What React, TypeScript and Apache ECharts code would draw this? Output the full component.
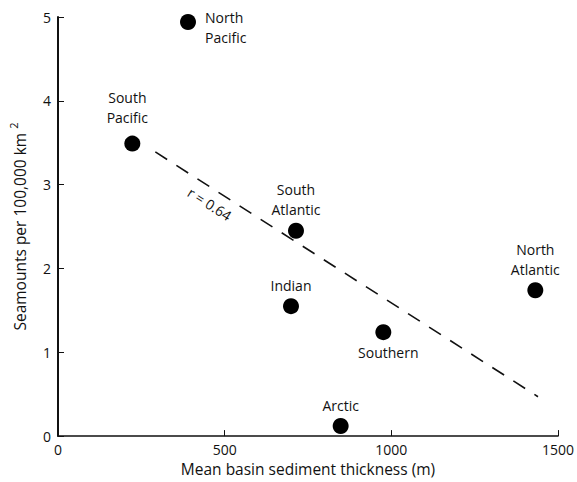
import React, { useEffect, useRef } from "react";
import * as echarts from "echarts";

const basins = ["North Pacific", "South Pacific", "South Atlantic", "Indian", "Southern", "North Atlantic", "Arctic"];
const thickness = [390, 223, 714, 699, 976, 1432, 848];
const seamounts = [4.94, 3.49, 2.45, 1.55, 1.24, 1.74, 0.12];
const trendX = [292, 1440];
const trendY = [3.39, 0.47];
const rLabel = "r = 0.64";
const rLabelAt = [455, 2.77];

const FONT = "Open Sans";
const TEXT = "#111";

const labelPlacement: Record<string, any> = {
  "North Pacific": { position: "right", distance: 9, align: "left", offset: [0, 5] },
  "South Pacific": { position: "top", distance: 8, offset: [-5, 0] },
  "South Atlantic": { position: "top", distance: 3 },
  "Indian": { position: "top", distance: 3 },
  "Southern": { position: "bottom", distance: 2, offset: [5, 0] },
  "North Atlantic": { position: "top", distance: 3 },
  "Arctic": { position: "top", distance: 3 },
};

export default function App() {
  const ref = useRef<HTMLDivElement>(null);
  useEffect(() => {
    if (!ref.current) return;
    const chart = echarts.init(ref.current, null, { renderer: "svg" });
    const points = basins.map((name, i) => ({
      name,
      value: [thickness[i], seamounts[i]],
      label: { show: true, ...labelPlacement[name] },
    }));
    chart.setOption({
      animation: false,
      backgroundColor: "#fff",
      grid: { left: 57, right: 16, top: 17, bottom: 45 },
      xAxis: {
        type: "value",
        min: 0,
        max: 1500,
        interval: 500,
        name: "Mean basin sediment thickness (m)",
        nameLocation: "middle",
        nameGap: 21,
        nameTextStyle: { fontFamily: FONT, fontSize: 15.5, color: TEXT },
        axisLine: { show: true, lineStyle: { color: "#111", width: 1.5 } },
        axisTick: { show: true, inside: true, length: 6, lineStyle: { color: "#111", width: 1 } },
        axisLabel: { margin: 6, fontFamily: FONT, fontSize: 14, color: TEXT, formatter: (v: number) => String(v) },
        splitLine: { show: false },
      },
      yAxis: {
        type: "value",
        min: 0,
        max: 5,
        interval: 1,
        name: "{a|Seamounts per 100,000 km} {sup|2}",
        nameLocation: "middle",
        nameGap: 27,
        nameTextStyle: {
          fontFamily: FONT,
          fontSize: 15.5,
          color: TEXT,
          rich: {
            a: { fontFamily: FONT, fontSize: 15.5, color: TEXT },
            sup: { fontFamily: FONT, fontSize: 11, color: TEXT, padding: [0, 0, 12, 0] },
          },
        },
        axisLine: { show: true, lineStyle: { color: "#111", width: 2 } },
        axisTick: { show: true, inside: true, length: 6, lineStyle: { color: "#111", width: 1 } },
        axisLabel: { margin: 7, fontFamily: FONT, fontSize: 14, color: TEXT, formatter: (v: number) => String(v) },
        splitLine: { show: false },
      },
      series: [
        {
          type: "line",
          data: trendX.map((x, i) => [x, trendY[i]]),
          symbol: "none",
          lineStyle: { color: "#111", width: 1.6, type: [14, 11] },
          silent: true,
          z: 1,
        },
        {
          type: "scatter",
          data: points,
          symbol: "circle",
          symbolSize: 16,
          itemStyle: { color: "#000", opacity: 1 },
          label: {
            formatter: (p: any) => p.name.replace(" ", "\n"),
            fontFamily: FONT,
            fontSize: 14,
            lineHeight: 20,
            color: TEXT,
          },
          z: 3,
        },
        {
          type: "scatter",
          data: [rLabelAt],
          symbolSize: 1,
          itemStyle: { color: "rgba(255,255,255,0)", opacity: 1 },
          label: {
            show: true,
            position: "inside",
            formatter: rLabel,
            rotate: -32.5,
            fontFamily: FONT,
            fontSize: 14,
            color: TEXT,
            opacity: 1,
          },
          silent: true,
          z: 2,
        },
      ],
    });
    return () => chart.dispose();
  }, []);
  return <div ref={ref} style={{ position: "fixed", left: 0, top: 0, width: 577, height: 482 }} />;
}
